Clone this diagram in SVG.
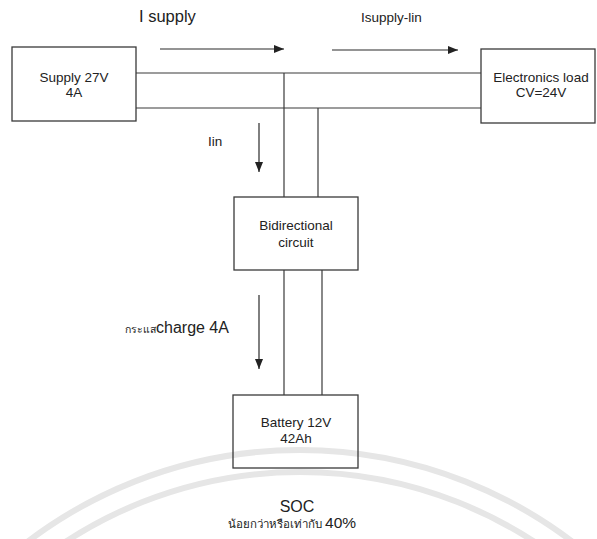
<svg xmlns="http://www.w3.org/2000/svg" width="597" height="539" viewBox="0 0 597 539">
<style>
.box{fill:none;stroke:#3a3a3a;stroke-width:1.3}
.wire{fill:none;stroke:#3a3a3a;stroke-width:1.2}
.arr{fill:none;stroke:#2a2a2a;stroke-width:1.2;marker-end:url(#ah)}
.wm{fill:none;stroke:#e6e6e6;stroke-width:6}
text{font-family:"Liberation Sans",Arial,"DejaVu Sans",sans-serif;fill:#222}
.lbl{font-size:13.5px;text-anchor:middle}
</style>
<defs>
<marker id="ah" viewBox="0 0 10 8" refX="10" refY="4" markerWidth="10" markerHeight="8" markerUnits="userSpaceOnUse" orient="auto">
<path d="M0,0 L10,4 L0,8 Z" fill="#222"/>
</marker>
</defs>
<g id="watermark">
<circle class="wm" cx="300" cy="900" r="450"/>
<circle class="wm" cx="300" cy="900" r="428"/>
</g>
<g id="connectors">
<line class="wire" x1="136" y1="73" x2="481" y2="73"/>
<line class="wire" x1="136" y1="108" x2="481" y2="108"/>
<line class="wire" x1="284" y1="73" x2="284" y2="197"/>
<line class="wire" x1="318" y1="108" x2="318" y2="197"/>
<line class="wire" x1="284" y1="270" x2="284" y2="395"/>
<line class="wire" x1="322" y1="270" x2="322" y2="395"/>
<line class="arr" x1="160" y1="49" x2="284" y2="49"/>
<line class="arr" x1="332" y1="50" x2="458" y2="50"/>
<line class="arr" x1="259" y1="123" x2="259" y2="172"/>
<line class="arr" x1="259" y1="295" x2="259" y2="369"/>
</g>
<g id="supply">
<rect class="box" x="12" y="47" width="124" height="74"/>
<text class="lbl" x="74" y="82">Supply 27V</text>
<text class="lbl" x="74" y="97">4A</text>
</g>
<g id="load">
<rect class="box" x="481" y="49" width="114" height="74"/>
<text class="lbl" x="541" y="82">Electronics load</text>
<text class="lbl" x="541" y="97">CV=24V</text>
</g>
<g id="bidirectional">
<rect class="box" x="234" y="197" width="124" height="73"/>
<text class="lbl" x="296" y="230">Bidirectional</text>
<text class="lbl" x="296" y="247">circuit</text>
</g>
<g id="battery">
<rect class="box" x="233" y="395" width="125" height="73"/>
<text class="lbl" x="296" y="427">Battery 12V</text>
<text class="lbl" x="296" y="443">42Ah</text>
</g>
<g id="labels">
<text x="139" y="22" font-size="16.5">I supply</text>
<text x="361" y="22" font-size="13.5">Isupply-lin</text>
<text x="208" y="146" font-size="13.5">Iin</text>
<text x="125" y="333"><tspan font-size="10.5">กระแส</tspan><tspan font-size="16">charge 4A</tspan></text>
<text x="297" y="512" font-size="16" text-anchor="middle">SOC</text>
<text x="292" y="528" text-anchor="middle"><tspan font-size="11.5">น้อยกว่าหรือเท่ากับ </tspan><tspan font-size="15.5">40%</tspan></text>
</g>
</svg>
